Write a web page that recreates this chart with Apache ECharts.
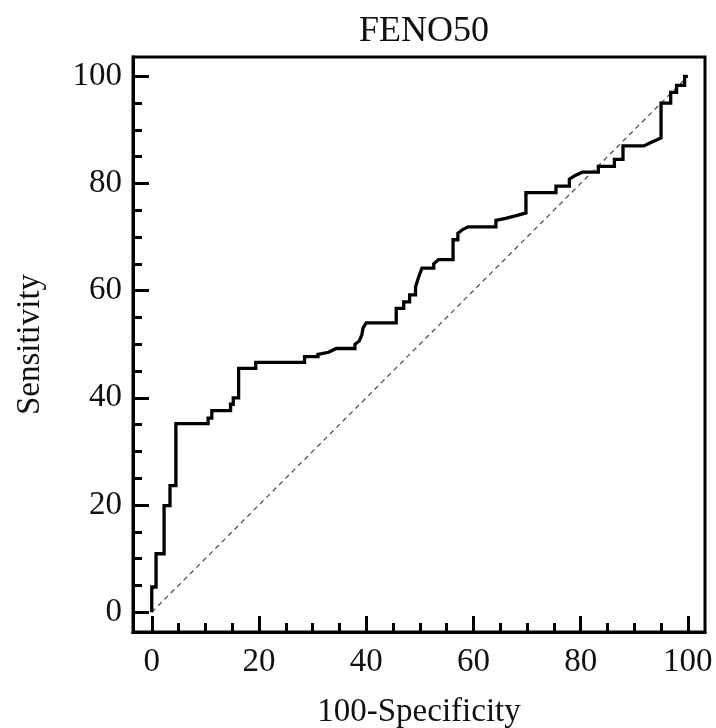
<!DOCTYPE html>
<html>
<head>
<meta charset="utf-8">
<script src="https://cdn.jsdelivr.net/npm/echarts@6/dist/echarts.min.js"></script>
<style>html,body{margin:0;padding:0;background:#fff}#c{width:716px;height:728px}</style>
</head>
<body>
<div id="c"></div>
<script>
// ROC curve vertices (100-Specificity, Sensitivity)
const specX = [0,0,0.8,0.8,2.3,2.3,3.4,3.4,4.5,4.5,10.5,10.5,11.2,11.2,14.7,14.7,15.2,15.2,16.2,16.2,19.4,19.4,28.5,28.5,31,31,33,34.4,37.9,37.9,38.7,39.2,39.4,40,45.6,45.6,47,47,48.1,48.1,49.2,49.2,49.8,50.4,52.6,52.6,53.5,56.2,56.2,57.1,57.1,58,59,64.2,64.2,66,68,69.8,69.8,75.4,75.4,77.9,77.9,79,80.3,83.3,83.3,86.3,86.3,87.9,87.9,91.8,93,95,95,96.8,96.8,97.9,97.9,99.4,99.4,100];
const sensY = [0,4.7,4.7,10.9,10.9,19.9,19.9,23.6,23.6,35.2,35.2,36.2,36.2,37.6,37.6,38.8,38.8,40,40,45.5,45.5,46.6,46.6,47.7,47.7,48.1,48.5,49.2,49.2,50,50.6,51.8,53,54,54,56.7,56.7,57.9,57.9,59.2,59.2,60.7,62.6,64.2,64.2,65,65.8,65.8,69.5,69.5,70.7,71.4,71.9,71.9,73.1,73.5,74,74.5,78.3,78.3,79.5,79.5,80.8,81.5,82.1,82.1,83.2,83.2,84.5,84.5,87,87,87.6,88.5,95,95,97,97,98.3,98.3,100,100];
const refX = [0,100];
const refY = [0,100];
const majorTicks = [0,20,40,60,80,100];
const minorTicks = [5,10,15,25,30,35,45,50,55,65,70,75,85,90,95];
const titleText = 'FENO50';
const xName = '100-Specificity';
const yName = 'Sensitivity';

const font = 'Liberation Serif';
const chart = echarts.init(document.getElementById('c'), null, {renderer:'canvas'});
const labelStyle = {color:'#111', fontFamily:font, fontSize:33};
const lineStyle = {show:true, onZero:false, lineStyle:{color:'#000', width:3}};
chart.setOption({
  animation:false,
  backgroundColor:'#fff',
  title:{text:titleText, left:419, top:9, textAlign:'center',
    textStyle:{color:'#111', fontFamily:font, fontSize:36, fontWeight:'normal'}},
  grid:[{left:133, right:11, top:57, bottom:96, outerBoundsMode:'none', containLabel:false,
    show:true, borderColor:'#000', borderWidth:3, backgroundColor:'transparent'}],
  xAxis:[
    {type:'value', position:'bottom', min:-3.5, max:103.2, name:xName, nameGap:64, nameLocation:'middle',
      nameTextStyle:Object.assign({}, labelStyle),
      axisLine:lineStyle,
      axisTick:{show:true, inside:true, length:16, customValues:majorTicks, lineStyle:{color:'#000', width:3}},
      splitLine:{show:false},
      axisLabel:Object.assign({customValues:majorTicks, margin:14}, labelStyle)},
    {type:'value', position:'bottom', min:-3.5, max:103.2,
      axisLine:lineStyle,
      axisTick:{show:true, inside:true, length:9, customValues:minorTicks, lineStyle:{color:'#000', width:3}},
      splitLine:{show:false}, axisLabel:{show:false}}
  ],
  yAxis:[
    {type:'value', position:'left', min:-3.7, max:103.6, name:yName, nameGap:86, nameRotate:90, nameLocation:'middle',
      nameTextStyle:Object.assign({}, labelStyle),
      axisLine:lineStyle,
      axisTick:{show:true, inside:true, length:16, customValues:majorTicks, lineStyle:{color:'#000', width:3}},
      splitLine:{show:false},
      axisLabel:Object.assign({customValues:majorTicks, margin:11}, labelStyle)},
    {type:'value', position:'left', min:-3.7, max:103.6,
      axisLine:lineStyle,
      axisTick:{show:true, inside:true, length:9, customValues:minorTicks, lineStyle:{color:'#000', width:3}},
      splitLine:{show:false}, axisLabel:{show:false}}
  ],
  series:[
    {type:'line', xAxisIndex:0, yAxisIndex:0, data:refX.map((x,i)=>[x,refY[i]]),
      showSymbol:false, symbol:'none', lineStyle:{color:'#555', width:1.3, type:[5,4]}, z:2},
    {type:'line', xAxisIndex:0, yAxisIndex:0, data:specX.map((x,i)=>[x,sensY[i]]),
      showSymbol:false, symbol:'none', lineStyle:{color:'#000', width:3.3, join:'miter'}, z:3}
  ]
});
</script>
</body>
</html>
